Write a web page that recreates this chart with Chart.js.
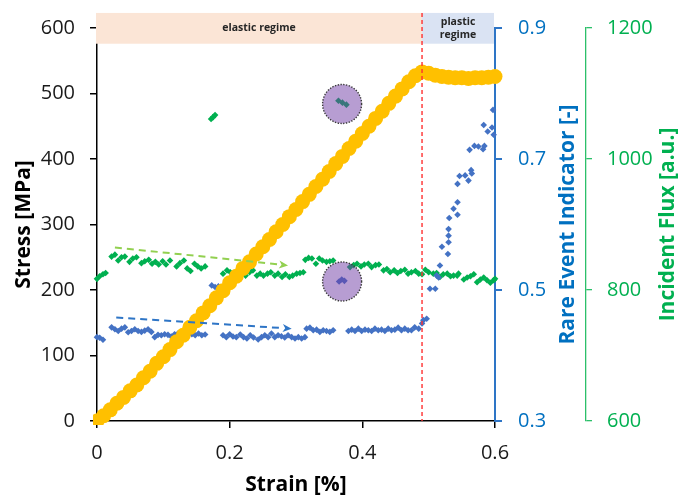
<!DOCTYPE html>
<html>
<head>
<meta charset="utf-8">
<script src="https://cdn.jsdelivr.net/npm/chart.js@4.4.1/dist/chart.umd.min.js"></script>
<style>
  html, body { margin: 0; padding: 0; background: #ffffff; }
  #wrap { width: 678px; height: 496px; }
</style>
</head>
<body>
<div id="wrap"><canvas id="chart" width="678" height="496"></canvas></div>
<script>
// ---- Stress–strain curve (left axis, MPa) ----
const stressStrain = [0.00,0.01,0.02,0.03,0.04,0.05,0.06,0.07,0.08,0.09,0.10,0.11,0.12,0.13,0.14,0.15,0.16,0.17,0.18,0.19,0.20,
  0.21,0.22,0.23,0.24,0.25,0.26,0.27,0.28,0.29,0.30,0.31,0.32,0.33,0.34,0.35,0.36,0.37,0.38,0.39,0.40,
  0.41,0.42,0.43,0.44,0.45,0.46,0.47,0.48,0.49,0.50,0.51,0.52,0.53,0.54,0.55,0.56,0.57,0.58,0.59,0.60];
const stressValues = [0,8,17,27,36,46,55,66,76,88,98,109,121,131,143,153,165,176,188,199,211,
  221,233,243,255,266,277,289,300,312,323,335,346,358,369,381,393,404,416,427,439,
  450,462,473,485,496,507,518,527,533,531,528,526,525,524,524,523,524,524,525,526];

// ---- Rare event indicator (first right axis, dimensionless) ----
const rareStrain = [0.000,0.004,0.009,0.022,0.027,0.032,0.037,0.042,0.047,0.052,0.057,0.062,0.067,0.072,0.077,0.082,0.087,0.092,0.097,0.102,
  0.107,0.112,0.117,0.122,0.127,0.132,0.137,0.143,0.148,0.153,0.158,0.163,0.173,0.178,0.183,0.190,0.195,0.200,0.205,0.210,
  0.216,0.221,0.226,0.231,0.236,0.243,0.248,0.253,0.258,0.263,0.268,0.273,0.278,0.283,0.288,0.2935,0.2985,0.3035,0.3085,0.3135,
  0.316,0.321,0.326,0.331,0.336,0.341,0.346,0.351,0.356,0.365,0.369,0.373,0.379,0.384,0.389,0.394,0.399,0.404,0.409,0.414,
  0.419,0.424,0.429,0.434,0.439,0.444,0.449,0.454,0.459,0.464,0.469,0.474,0.479,0.485,0.490,0.492,0.497,0.502,0.510,0.512,
  0.515,0.517,0.520,0.529,0.530,0.530,0.530,0.531,0.5375,0.5435,0.5435,0.5435,0.5465,0.555,0.560,0.5617,0.564,0.565,0.569,0.575,
  0.582,0.583,0.584,0.589,0.5955,0.597,0.598];
const rareValues = [0.428,0.427,0.424,0.443,0.440,0.4375,0.441,0.443,0.4355,0.4375,0.440,0.4375,0.436,0.438,0.440,0.436,0.428,0.4315,0.431,0.4325,
  0.4315,0.429,0.4325,0.4335,0.4315,0.431,0.431,0.4325,0.431,0.4335,0.431,0.432,0.507,0.5045,0.5055,0.431,0.428,0.4325,0.429,0.428,
  0.432,0.428,0.426,0.431,0.4275,0.4245,0.428,0.431,0.428,0.4335,0.428,0.431,0.4295,0.4275,0.431,0.428,0.426,0.428,0.426,0.428,
  0.441,0.4425,0.4385,0.4395,0.436,0.4385,0.4375,0.436,0.4385,0.513,0.516,0.514,0.4375,0.4395,0.4375,0.441,0.4375,0.4395,0.4385,0.4375,
  0.441,0.4385,0.4395,0.4375,0.441,0.4385,0.4395,0.4425,0.4385,0.441,0.4385,0.4385,0.443,0.441,0.449,0.454,0.456,0.502,0.502,0.522,
  0.519,0.5375,0.566,0.555,0.573,0.583,0.593,0.610,0.624,0.634,0.615,0.662,0.674,0.675,0.667,0.714,0.683,0.678,0.720,0.719,
  0.715,0.752,0.720,0.742,0.748,0.775,0.737];

// ---- Incident flux (second right axis, a.u.) ----
const fluxStrain = [0.000,0.004,0.009,0.013,0.022,0.027,0.032,0.037,0.042,0.049,0.054,0.0595,0.067,0.072,0.078,0.083,0.088,0.093,0.099,0.104,
  0.110,0.120,0.125,0.131,0.136,0.141,0.147,0.152,0.157,0.163,0.172,0.175,0.178,0.190,0.196,0.201,0.207,0.213,0.218,0.224,
  0.230,0.235,0.241,0.246,0.251,0.257,0.262,0.268,0.273,0.279,0.284,0.290,0.295,0.301,0.306,0.311,0.314,0.319,0.324,0.330,
  0.335,0.340,0.346,0.351,0.356,0.364,0.370,0.376,0.3815,0.387,0.392,0.398,0.403,0.409,0.414,0.420,0.425,0.432,0.437,0.442,
  0.448,0.453,0.458,0.464,0.469,0.474,0.480,0.485,0.490,0.495,0.500,0.507,0.512,0.517,0.522,0.528,0.533,0.5375,0.543,0.545,
  0.553,0.558,0.563,0.568,0.573,0.578,0.583,0.588,0.593,0.598,0.600];
const fluxValues = [817,821,824,826,851,854,845,850,851,843,848,850,841,844,846,840,843,839,844,839,
  845,836,841,845,833,829,840,836,833,836,1061,1064,1067,825,830,827,822,827,825,822,
  827,830,822,825,822,825,827,822,825,820,824,820,822,825,826,827,846,849,848,840,
  848,845,843,844,845,1089,1086,1083,835,838,840,836,839,840,835,838,839,830,832,827,
  830,826,829,831,825,827,829,825,824,831,827,825,826,820,824,825,821,822,822,825,
  816,819,821,824,812,816,819,815,811,815,817];

// ---- Axis ticks ----
const strainTicks = [0, 0.2, 0.4, 0.6];
const strainTickLabels = ['0', '0.2', '0.4', '0.6'];
const stressTicks = [0, 100, 200, 300, 400, 500, 600];
const stressTickLabels = ['0', '100', '200', '300', '400', '500', '600'];
const rareTicks = [0.3, 0.5, 0.7, 0.9];
const rareTickLabels = ['0.3', '0.5', '0.7', '0.9'];
const fluxTicks = [600, 800, 1000, 1200];
const fluxTickLabels = ['600', '800', '1000', '1200'];

// ---- Regimes (strain ranges), yield line, trend arrows, highlighted events ----
const regimeLines = [['elastic regime'], ['plastic', 'regime']];
const regimeFrom = [0, 0.49];
const regimeTo = [0.49, 0.6];
const regimeBandStress = [576, 623];
const yieldStrain = 0.49;
const fluxTrend = { from: [0.027, 865], to: [0.288, 837.5] };
const rareTrend = { from: [0.029, 0.458], to: [0.2935, 0.441] };
const highlightStrain = [0.3695, 0.3695];
const highlightValue = [1084, 0.513];
const highlightAxis = ['yFlux', 'yRare'];

const FONT = "'Open Sans', sans-serif";
const BLUE = '#0070C0';
const GREEN = '#00B050';

const toPoints = (xs, ys) => xs.map((x, i) => ({ x, y: ys[i] }));
const fixedTicks = (values) => (scale) => { scale.ticks = values.map(v => ({ value: v })); };

function dashedArrow(ctx, x0, y0, x1, y1, color) {
  const ang = Math.atan2(y1 - y0, x1 - x0);
  const head = 9, half = 4;
  const xe = x1 - Math.cos(ang) * head, ye = y1 - Math.sin(ang) * head;
  ctx.save();
  ctx.strokeStyle = color;
  ctx.lineWidth = 2;
  ctx.setLineDash([7, 5]);
  ctx.beginPath();
  ctx.moveTo(x0, y0);
  ctx.lineTo(xe, ye);
  ctx.stroke();
  ctx.setLineDash([]);
  ctx.fillStyle = color;
  ctx.beginPath();
  ctx.moveTo(x1, y1);
  ctx.lineTo(xe + Math.sin(ang) * half, ye - Math.cos(ang) * half);
  ctx.lineTo(xe + Math.cos(ang) * 2.5, ye + Math.sin(ang) * 2.5);
  ctx.lineTo(xe - Math.sin(ang) * half, ye + Math.cos(ang) * half);
  ctx.closePath();
  ctx.fill();
  ctx.restore();
}

const decorations = {
  id: 'decorations',
  afterDraw(chart) {
    const { ctx, chartArea, scales } = chart;
    const xs = scales.x, ys = scales.yStress;
    ctx.save();

    // regime bands above the plot
    const bandTop = ys.getPixelForValue(regimeBandStress[1]);
    const bandBottom = ys.getPixelForValue(regimeBandStress[0]);
    const bandColors = ['#FBE5D6', '#DAE3F3'];
    regimeLines.forEach((lines, i) => {
      const x0 = xs.getPixelForValue(regimeFrom[i]) - (i === 0 ? 1 : 0);
      const x1 = xs.getPixelForValue(regimeTo[i]) - (i === regimeLines.length - 1 ? 1 : 0);
      ctx.fillStyle = bandColors[i];
      ctx.fillRect(x0, bandTop, x1 - x0, bandBottom - bandTop);
      ctx.fillStyle = '#262626';
      ctx.font = `bold 10.5px ${FONT}`;
      ctx.textAlign = 'center';
      ctx.textBaseline = 'middle';
      const cy = (bandTop + bandBottom) / 2;
      lines.forEach((ln, k) => {
        ctx.fillText(ln, (x0 + x1) / 2, cy + (k - (lines.length - 1) / 2) * 13.3);
      });
    });

    // yield line
    const xy = xs.getPixelForValue(yieldStrain);
    ctx.strokeStyle = '#FF3030';
    ctx.lineWidth = 1.4;
    ctx.setLineDash([4, 3]);
    ctx.beginPath();
    ctx.moveTo(xy, bandTop);
    ctx.lineTo(xy, ys.getPixelForValue(0));
    ctx.stroke();
    ctx.setLineDash([]);

    // trend arrows
    const yf = scales.yFlux, yr = scales.yRare;
    dashedArrow(ctx, xs.getPixelForValue(fluxTrend.from[0]), yf.getPixelForValue(fluxTrend.from[1]),
      xs.getPixelForValue(fluxTrend.to[0]), yf.getPixelForValue(fluxTrend.to[1]), '#92D050');
    dashedArrow(ctx, xs.getPixelForValue(rareTrend.from[0]), yr.getPixelForValue(rareTrend.from[1]),
      xs.getPixelForValue(rareTrend.to[0]), yr.getPixelForValue(rareTrend.to[1]), '#2E75C6');

    // highlighted events
    highlightStrain.forEach((sx, i) => {
      const cx = xs.getPixelForValue(sx);
      const cy = scales[highlightAxis[i]].getPixelForValue(highlightValue[i]);
      ctx.beginPath();
      ctx.arc(cx, cy, 19.5, 0, Math.PI * 2);
      ctx.fillStyle = 'rgba(112, 60, 165, 0.5)';
      ctx.fill();
      ctx.setLineDash([1.4, 1.4]);
      ctx.strokeStyle = '#3a3a3a';
      ctx.lineWidth = 1.4;
      ctx.stroke();
      ctx.setLineDash([]);
    });

    // right-hand axis titles (read bottom to top)
    const midY = (chartArea.top + chartArea.bottom) / 2;
    [[yr, 'Rare Event Indicator [-]', BLUE, 18], [yf, 'Incident Flux [a.u.]', GREEN, 10]].forEach(([sc, text, color, off]) => {
      ctx.save();
      ctx.translate(sc.right - off, midY);
      ctx.rotate(-Math.PI / 2);
      ctx.fillStyle = color;
      ctx.font = `bold 21px ${FONT}`;
      ctx.textAlign = 'center';
      ctx.textBaseline = 'middle';
      ctx.fillText(text, 0, 0);
      ctx.restore();
    });

    ctx.restore();
  }
};

Chart.defaults.font.family = FONT;

const axisCommon = (color, tickLen, width) => ({
  grid: { drawOnChartArea: false, drawTicks: true, tickLength: tickLen, tickColor: color, tickWidth: width, color: color, lineWidth: width },
  border: { display: true, color: color, width: width },
});

new Chart(document.getElementById('chart'), {
  type: 'scatter',
  data: {
    datasets: [
      {
        label: 'Stress',
        data: toPoints(stressStrain, stressValues),
        yAxisID: 'yStress',
        pointStyle: 'circle',
        pointRadius: 7.5,
        pointBorderWidth: 0,
        backgroundColor: '#FFC000',
        borderColor: '#FFC000',
        clip: { left: 4, top: 10, right: 8, bottom: 4 }
      },
      {
        label: 'Rare Event Indicator',
        data: toPoints(rareStrain, rareValues),
        yAxisID: 'yRare',
        pointStyle: 'rectRot',
        pointRadius: 3.3,
        pointBorderWidth: 0,
        backgroundColor: '#4472C4',
        borderColor: '#4472C4',
        clip: 6
      },
      {
        label: 'Incident Flux',
        data: toPoints(fluxStrain, fluxValues),
        yAxisID: 'yFlux',
        pointStyle: 'rectRot',
        pointRadius: 3.3,
        pointBorderWidth: 0,
        backgroundColor: '#00B050',
        borderColor: '#00B050',
        clip: 6
      }
    ]
  },
  options: {
    responsive: false,
    devicePixelRatio: 1,
    animation: false,
    events: [],
    layout: { padding: { top: 27, left: 0, right: 0, bottom: 0 } },
    plugins: { legend: { display: false }, tooltip: { enabled: false } },
    scales: {
      x: {
        type: 'linear', position: 'bottom', min: 0, max: 0.6,
        afterBuildTicks: fixedTicks(strainTicks),
        ...axisCommon('#000000', 7, 1.5),
        ticks: { color: '#1a1a1a', font: { size: 20 }, padding: 13, maxRotation: 0,
                 callback: (v, i) => strainTickLabels[i] },
        title: { display: true, text: 'Strain [%]', color: '#000000',
                 font: { size: 21, weight: 'bold', lineHeight: 1 }, padding: { top: 0, bottom: 0 } },
        afterFit: (s) => { s.height = 75; }
      },
      yStress: {
        type: 'linear', position: 'left', min: 0, max: 600,
        afterBuildTicks: fixedTicks(stressTicks),
        ...axisCommon('#000000', 7, 1.5),
        ticks: { color: '#1a1a1a', font: { size: 20 }, padding: 15,
                 callback: (v, i) => stressTickLabels[i] },
        title: { display: true, text: 'Stress [MPa]', color: '#000000',
                 font: { size: 21, weight: 'bold', lineHeight: 1 }, padding: { top: 14, bottom: 0 } },
        afterFit: (s) => { s.width = 97; }
      },
      yRare: {
        type: 'linear', position: 'right', weight: 0, min: 0.3, max: 0.9,
        afterBuildTicks: fixedTicks(rareTicks),
        ...axisCommon('#2E75C6', 7, 2),
        ticks: { color: BLUE, font: { size: 20 }, padding: 16,
                 callback: (v, i) => rareTickLabels[i] },
        title: { display: false },
        afterFit: (s) => { s.width = 91; }
      },
      yFlux: {
        type: 'linear', position: 'right', weight: 1, min: 600, max: 1200,
        afterBuildTicks: fixedTicks(fluxTicks),
        ...axisCommon('#2CC06A', 6, 1.3),
        ticks: { color: GREEN, font: { size: 20 }, padding: 15,
                 callback: (v, i) => fluxTickLabels[i] },
        title: { display: false },
        afterFit: (s) => { s.width = 92; }
      }
    }
  },
  plugins: [decorations]
});
</script>
</body>
</html>
